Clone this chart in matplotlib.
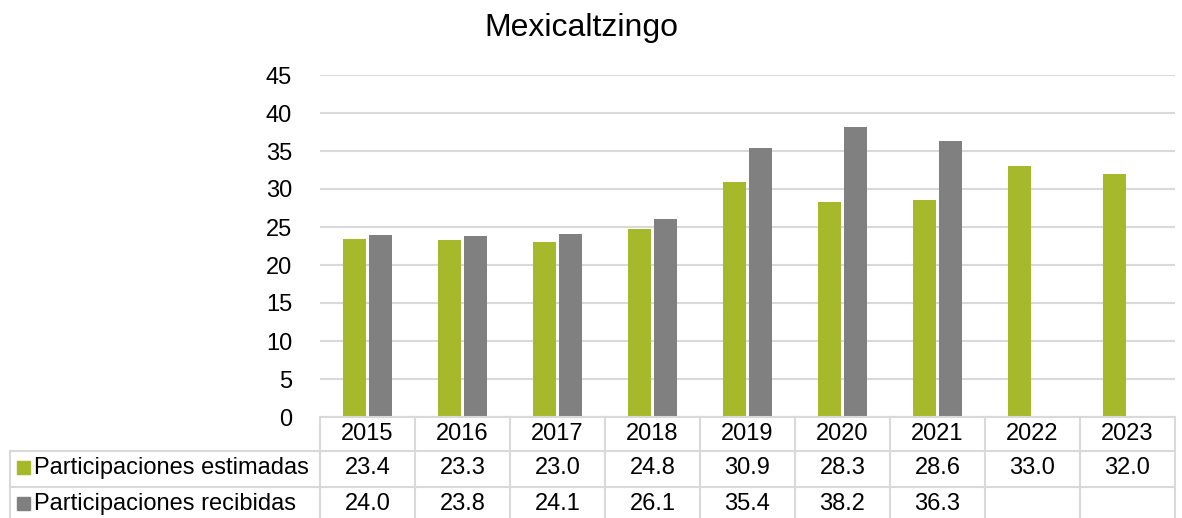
import numpy as np
import matplotlib.pyplot as plt

plt.rcParams['font.family'] = ['Liberation Sans', 'DejaVu Sans']

# Données
annees = ["2015", "2016", "2017", "2018", "2019", "2020", "2021", "2022", "2023"]
estimadas = [23.4, 23.3, 23.0, 24.8, 30.9, 28.3, 28.6, 33.0, 32.0]
recibidas = [24.0, 23.8, 24.1, 26.1, 35.4, 38.2, 36.3, None, None]
series = ["Participaciones estimadas", "Participaciones recibidas"]
couleurs = ["#A6B92B", "#808080"]
grille = "#D9D9D9"

W, H = 1182, 518
fig = plt.figure(figsize=(W/100, H/100), dpi=100)

# Zone du graphique (coordonnées en pixels)
x0, x1 = 320, 1175
y_top, y_zero = 75, 417
ax = fig.add_axes([x0/W, 1 - y_zero/H, (x1 - x0)/W, (y_zero - y_top)/H])

n = len(annees)
x = np.arange(n)
bw = 0.245
ax.bar(x - bw/2 - 0.015, estimadas, bw, color=couleurs[0], zorder=3)
xr = [xi for xi, v in zip(x, recibidas) if v is not None]
vr = [v for v in recibidas if v is not None]
ax.bar(np.array(xr) + bw/2 + 0.015, vr, bw, color=couleurs[1], zorder=3)

ax.set_xlim(-0.5, n - 0.5)
ax.set_ylim(0, 45)
ax.set_yticks(range(0, 50, 5))
ax.yaxis.grid(True, color=grille, lw=1.5, zorder=0)
ax.set_xticks([])
for s in ax.spines.values():
    s.set_visible(False)
ax.tick_params(axis='y', length=0, pad=20, labelsize=17)

# Tableau de données
tx = fig.add_axes([0, 0, 1, 1], facecolor='none')
tx.set_xlim(0, W)
tx.set_ylim(H, 0)
tx.axis('off')
tx.text(581, 28, "Mexicaltzingo", ha='center', va='center', fontsize=23)

col_w = (x1 - x0) / n
rows = [417, 451, 487, 530]
# lignes horizontales
tx.plot([x0, x1], [rows[0], rows[0]], color=grille, lw=1.5)
for yy in rows[1:3]:
    tx.plot([10, x1], [yy, yy], color=grille, lw=1.5)
# lignes verticales
tx.plot([10, 10], [rows[1], rows[3]], color=grille, lw=1.5)
for i in range(n + 1):
    xx = x0 + i * col_w
    tx.plot([xx, xx], [rows[0], rows[3]], color=grille, lw=1.5)

for i, a in enumerate(annees):
    cx = x0 + (i + 0.5) * col_w
    tx.text(cx, 434, a, ha='center', va='center', fontsize=17)
    tx.text(cx, 468, f"{estimadas[i]:.1f}", ha='center', va='center', fontsize=17)
    if recibidas[i] is not None:
        tx.text(cx, 504, f"{recibidas[i]:.1f}", ha='center', va='center', fontsize=17)

for j, (nom, c) in enumerate(zip(series, couleurs)):
    yy = 468 + 36 * j
    tx.add_patch(plt.Rectangle((17, yy - 7), 13, 13, color=c))
    tx.text(34, yy, nom, ha='left', va='center', fontsize=17)

fig.savefig("out.png", dpi=100)
